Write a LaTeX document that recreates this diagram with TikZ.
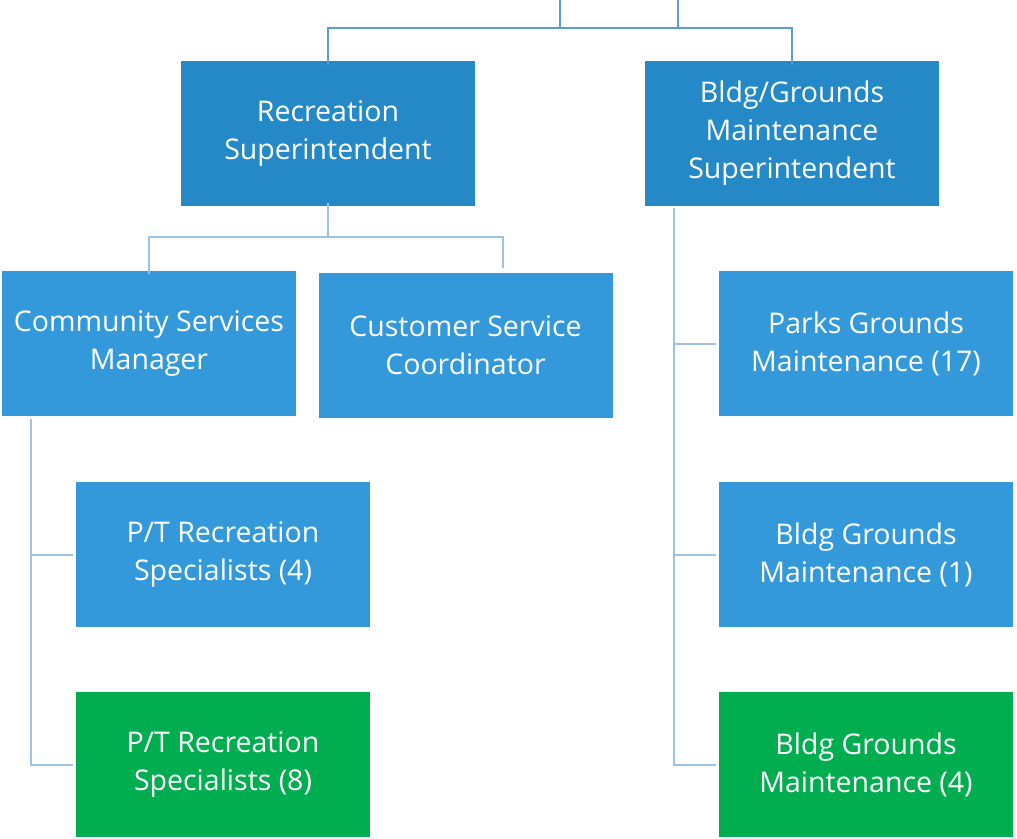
\documentclass[tikz,border=0pt]{standalone}
\usepackage{fontspec}
\setmainfont{Open Sans}
\definecolor{topblue}{HTML}{2589C7}
\definecolor{midblue}{HTML}{3399DA}
\definecolor{grn}{HTML}{00AD4F}
\definecolor{lineA}{HTML}{5B9BD5}
\definecolor{lineB}{HTML}{9DC3E6}
\begin{document}
\begin{tikzpicture}[x=1pt,y=-1pt,
  box/.style={rectangle, minimum width=294pt, minimum height=145pt, inner sep=0pt,
    text=white, align=center, font=\fontsize{28.5}{38}\selectfont},
  lvl1/.style={box, fill=topblue},
  lvl2/.style={box, fill=midblue},
  lvlg/.style={box, fill=grn},
  conA/.style={draw=lineA, line width=2pt},
  conB/.style={draw=lineB, line width=2pt}]
\useasboundingbox (0,0) rectangle (1017,838);
\node[lvl1] (rec) at (328,133.5) {Recreation\\Superintendent};
\node[lvl1] (bldg) at (792,133.5) {Bldg/Grounds\\Maintenance\\Superintendent};
\node[lvl2] (csm) at (149,343.5) {Community Services\\Manager};
\node[lvl2] (csc) at (465.5,345.5) {Customer Service\\Coordinator};
\node[lvl2] (pt4) at (223,554.5) {P/T Recreation\\Specialists (4)};
\node[lvlg] (pt8) at (223,764.5) {P/T Recreation\\Specialists (8)};
\node[lvl2] (pgm) at (866,343.5) {Parks Grounds\\Maintenance (17)};
\node[lvl2] (bgm1) at (866,554.5) {Bldg Grounds\\Maintenance (1)};
\node[lvlg] (bgm4) at (866,764.5) {Bldg Grounds\\Maintenance (4)};
% top connectors (parent above the picture)
\coordinate (t1) at (560,0);
\coordinate (t2) at (678,0);
\draw[conA] (t1) |- (328,28) -- ([yshift=-4pt]rec.north);
\draw[conA] (t2) |- (792,28) -- ([yshift=-4pt]bldg.north);
\draw[conA] (328,28) -- (792,28);
% recreation children
\coordinate (cscin) at (503,268);
\draw[conB] ([yshift=3pt]rec.south) |- (149,237) -- ([yshift=-3pt]csm.north);
\draw[conB] ([yshift=3pt]rec.south) |- (503,237) -- (cscin);
% community services manager children
\draw[conB] (31,419) |- ([xshift=-3pt]pt4.west);
\draw[conB] (31,419) |- ([xshift=-3pt]pt8.west);
% bldg children
\draw[conB] (674,208) |- ([xshift=-3pt]pgm.west);
\draw[conB] (674,208) |- ([xshift=-3pt]bgm1.west);
\draw[conB] (674,208) |- ([xshift=-3pt]bgm4.west);
\end{tikzpicture}
\end{document}
